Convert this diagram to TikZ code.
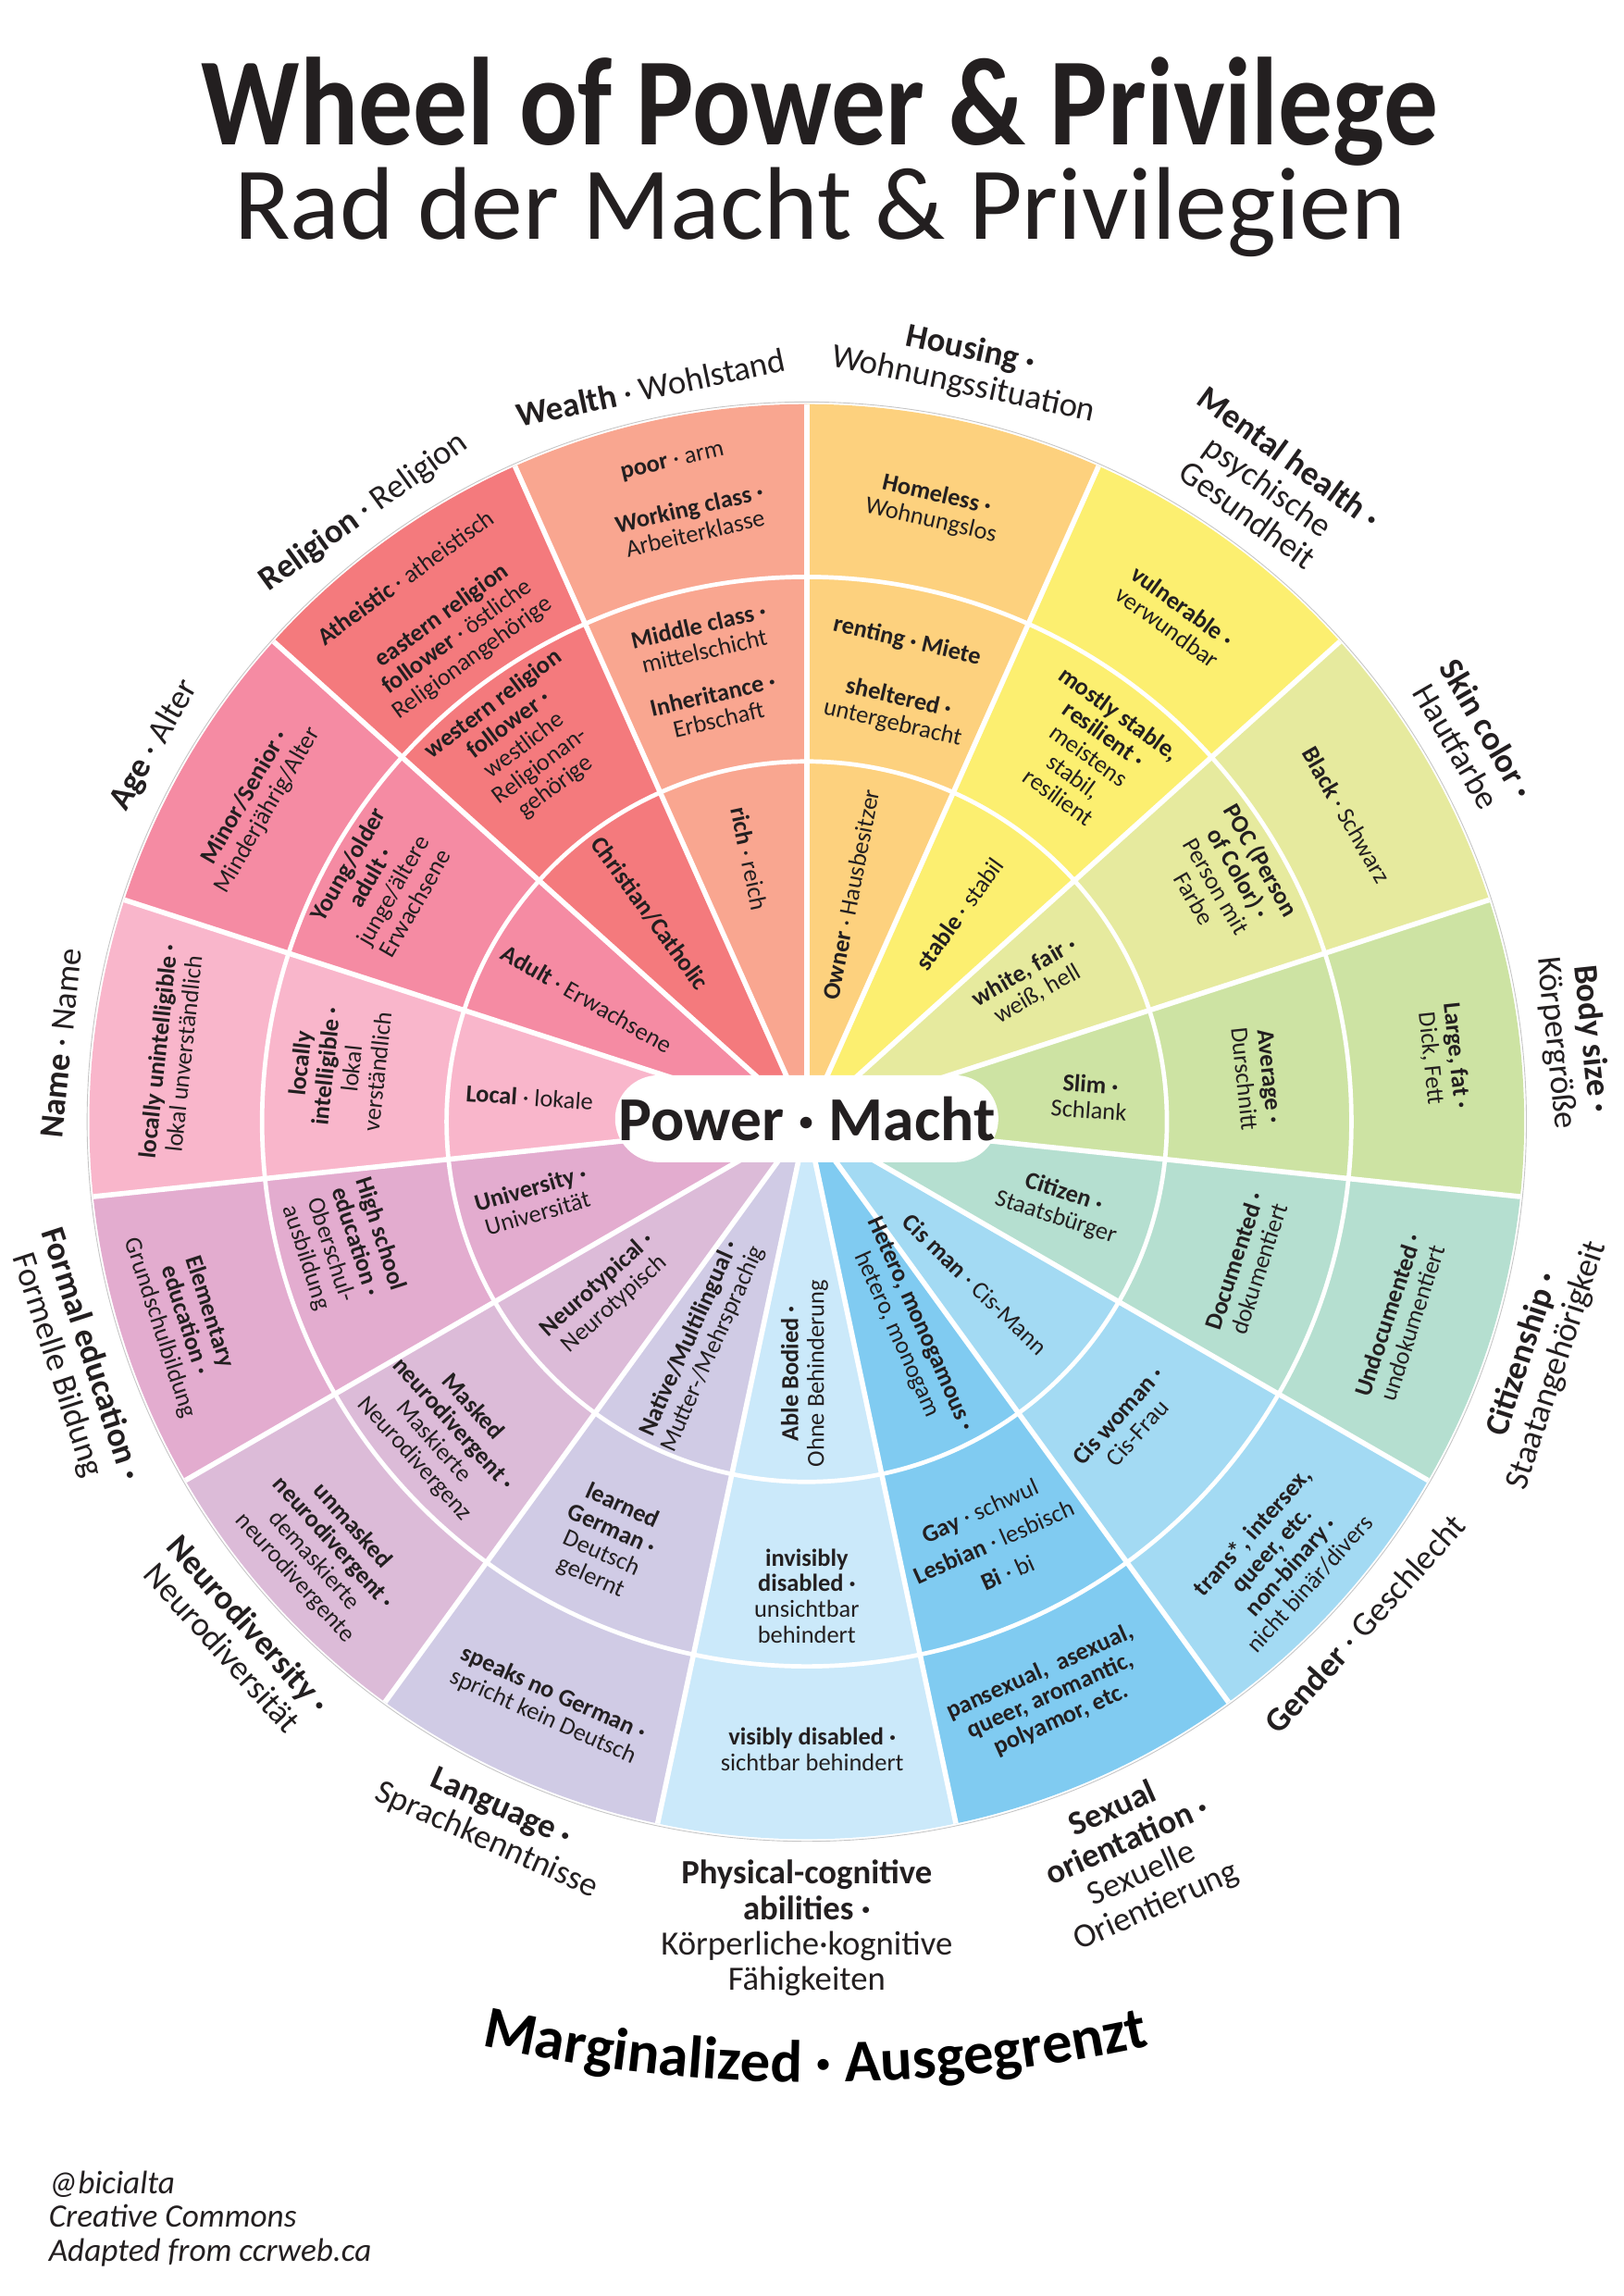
\documentclass[tikz,border=0pt]{standalone}
\usepackage{fontspec}
\setmainfont{Carlito}
\usepackage{xcolor}
\usepackage{tikz}
\usetikzlibrary{positioning, decorations.text}

\definecolor{ink}{HTML}{231F20}
\definecolor{housingc}{HTML}{FDD17E}
\definecolor{wealthc}{HTML}{F9A690}
\definecolor{religionc}{HTML}{F47A7D}
\definecolor{agec}{HTML}{F58BA3}
\definecolor{namec}{HTML}{F9B6CB}
\definecolor{educationc}{HTML}{E3ACCF}
\definecolor{neuroc}{HTML}{DCBBD8}
\definecolor{languagec}{HTML}{D0CBE5}
\definecolor{physicalc}{HTML}{CBE9FA}
\definecolor{sexualc}{HTML}{80CBF1}
\definecolor{genderc}{HTML}{A3DAF3}
\definecolor{citizenc}{HTML}{B5DFD0}
\definecolor{bodyc}{HTML}{CDE3A3}
\definecolor{skinc}{HTML}{E6EA9E}
\definecolor{mentalc}{HTML}{FCEF70}

\begin{document}
\begin{tikzpicture}[x=0.5387pt, y=0.5387pt,
    seg/.style={font=\fontsize{9}{9.5}\selectfont, align=center, inner sep=0pt, text=ink},
    cat/.style={font=\fontsize{12.5}{13}\selectfont, align=center, inner sep=0pt, text=ink},
    catup/.style={cat, anchor=south},
    catdown/.style={cat, anchor=north},
    sep/.style={white, line width=1.9pt},
    ring/.style={white, line width=1.6pt},
    ]
\fill[white] (-551,-802) rectangle (558,766);
\useasboundingbox (-551,-802) rectangle (558,766);

% wheel
\foreach \a/\col in {66/housingc, 90/wealthc, 114/religionc, 138/agec, 162/namec,
    186/educationc, 210/neuroc, 234/languagec, 258/physicalc, 282/sexualc,
    306/genderc, 330/citizenc, 354/bodyc, 18/skinc, 42/mentalc}
  \fill[fill=\col] (0,0) -- (\a:490) arc[start angle=\a, delta angle=24, radius=490] -- cycle;
\draw[ring] (0,0) circle[radius=246] (0,0) circle[radius=372];
\foreach \a in {66,90,...,402}
  \draw[sep] (0,0) -- (\a:490);
\draw[gray!45, line width=0.3pt] (0,0) circle[radius=491.5];

\node[fill=white, rounded corners=16pt, minimum width=141pt, minimum height=32pt, inner sep=0pt,
    font=\fontsize{23}{23}\selectfont\bfseries, text=ink] (power) at (0,2) {Power · Macht};

% categories
\node[catup, rotate=12] (wealth) at (102:504) {\textbf{Wealth} · Wohlstand};
\node[catup, rotate=-12] (housing) at (78:504) {\textbf{Housing ·}\\Wohnungssituation};
\node[catup, rotate=-36] (mental) at (54:504) {\textbf{Mental health ·}\\psychische\\Gesundheit};
\node[catup, rotate=-60] (skin) at (30:504) {\textbf{Skin color ·}\\Hautfarbe};
\node[catup, rotate=-84] (body) at (6:504) {\textbf{Body size ·}\\Körpergröße};
\node[catdown, rotate=72] (citizen) at (-18:504) {\textbf{Citizenship ·}\\Staatangehörigkeit};
\node[catdown, rotate=48] (gender) at (-42:504) {\textbf{Gender} · Geschlecht};
\node[catdown, rotate=24] (sexual) at (-66:504) {\textbf{Sexual}\\\textbf{orientation ·}\\Sexuelle\\Orientierung};
\node[catdown] (physical) at (-90:504) {\textbf{Physical-cognitive}\\\textbf{abilities ·}\\Körperliche·kognitive\\Fähigkeiten};
\node[catdown, rotate=-24] (language) at (-114:504) {\textbf{Language ·}\\Sprachkenntnisse};
\node[catdown, rotate=-48] (neurodiv) at (-138:504) {\textbf{Neurodiversity ·}\\Neurodiversität};
\node[catdown, rotate=-72] (education) at (-162:504) {\textbf{Formal education ·}\\Formelle Bildung};
\node[catup, rotate=84] (name) at (174:504) {\textbf{Name} · Name};
\node[catup, rotate=60] (age) at (150:504) {\textbf{Age} · Alter};
\node[catup, rotate=36] (religion) at (126:504) {\textbf{Religion} · Religion};

% wealth
\node[seg, rotate=13] (poor) at (101.5:459) {\textbf{poor} · arm};
\node[seg, rotate=13] (working) at (100.8:418) {\textbf{Working class ·}\\Arbeiterklasse};
\node[seg, rotate=13] (middle) at (102.3:338) {\textbf{Middle class ·}\\mittelschicht};
\node[seg, rotate=13] (inherit) at (102.4:290) {\textbf{Inheritance ·}\\Erbschaft};
\node[seg, rotate=-78] (rich) at (102.3:184) {\textbf{rich} · reich};
% housing
\node[seg, rotate=-13] (homeless) at (78.3:428) {\textbf{Homeless ·}\\Wohnungslos};
\node[seg, rotate=-13] (renting) at (78.2:335) {\textbf{renting · Miete}};
\node[seg, rotate=-13] (sheltered) at (77.8:287) {\textbf{sheltered ·}\\untergebracht};
\node[seg, rotate=79] (owner) at (79:158) {\textbf{Owner} · Hausbesitzer};
% mental health
\node[seg, rotate=-36] (vulnerable) at (53.9:427) {\textbf{vulnerable ·}\\verwundbar};
\node[seg, rotate=-36] (mostly) at (52.4:316) {\textbf{mostly stable,}\\\textbf{resilient ·}\\meistens\\stabil,\\resilient};
\node[seg, rotate=54] (stable) at (53.7:176) {\textbf{stable} · stabil};
% skin color
\node[seg, rotate=-60] (black) at (29.6:424) {\textbf{Black} · Schwarz};
\node[seg, rotate=-60] (poc) at (29.9:332) {\textbf{POC (Person}\\\textbf{of Color) ·}\\Person mit\\Farbe};
\node[seg, rotate=30] (fair) at (31.7:180) {\textbf{white, fair ·}\\weiß, hell};
% body size
\node[seg, rotate=-84] (large) at (5.8:437) {\textbf{Large, fat ·}\\Dick, Fett};
\node[seg, rotate=-84] (average) at (5.6:309) {\textbf{Average ·}\\Durschnitt};
\node[seg, rotate=-4] (slim) at (5:194) {\textbf{Slim ·}\\Schlank};
% citizenship
\node[seg, rotate=72] (undoc) at (-18.4:427) {\textbf{Undocumented ·}\\undokumentiert};
\node[seg, rotate=72] (doc) at (-18:316) {\textbf{Documented ·}\\dokumentiert};
\node[seg, rotate=-18] (citizenseg) at (-18.3:182) {\textbf{Citizen ·}\\Staatsbürger};
% gender
\node[seg, rotate=48] (trans) at (-42.6:440) {\textbf{trans*, intersex,}\\\textbf{queer, etc.}\\\textbf{non-binary ·}\\nicht binär/divers};
\node[seg, rotate=48] (ciswoman) at (-43.3:301) {\textbf{Cis woman ·}\\Cis-Frau};
\node[seg, rotate=-44] (cisman) at (-44:160) {\textbf{Cis man} · Cis-Mann};
% sexual orientation
\node[seg, rotate=24] (pan) at (-67:426) {\textbf{pansexual,\ \ asexual,}\\\textbf{queer, aromantic,}\\\textbf{polyamor, etc.}};
\node[seg, rotate=24] (gay) at (-66:314) {\textbf{Gay} · schwul\\[3pt]\textbf{Lesbian} · lesbisch\\[3pt]\textbf{Bi} · bi};
\node[seg, rotate=-66] (hetero) at (-64:158) {\textbf{Hetero, monogamous ·}\\hetero, monogam};
% abilities
\node[seg] (visibly) at (-89.5:429) {\textbf{visibly disabled ·}\\sichtbar behindert};
\node[seg] (invisibly) at (-90:324) {\textbf{invisibly}\\\textbf{disabled ·}\\unsichtbar\\behindert};
\node[seg, rotate=90] (able) at (-90.5:172) {\textbf{Able Bodied ·}\\Ohne Behinderung};
% language
\node[seg, rotate=-24] (speaks) at (-113.9:436) {\textbf{speaks no German ·}\\spricht kein Deutsch};
\node[seg, rotate=-24] (learned) at (-115.5:318) {\textbf{learned}\\\textbf{German ·}\\Deutsch\\gelernt};
\node[seg, rotate=66] (native) at (-115.4:168) {\textbf{Native/Multilingual ·}\\Mutter-/Mehrsprachig};
% neurodiversity
\node[seg, rotate=-48] (unmasked) at (-138.3:442) {\textbf{unmasked}\\\textbf{neurodivergent ·}\\demaskierte\\neurodivergente};
\node[seg, rotate=-48] (masked) at (-139.4:327) {\textbf{Masked}\\\textbf{neurodivergent ·}\\Maskierte\\Neurodivergenz};
\node[seg, rotate=42] (neurotyp) at (-139.3:181) {\textbf{Neurotypical ·}\\Neurotypisch};
% formal education
\node[seg, rotate=-72] (elementary) at (-162.3:446) {\textbf{Elementary}\\\textbf{education ·}\\Grundschulbildung};
\node[seg, rotate=-72] (highschool) at (-165:328) {\textbf{High school}\\\textbf{education ·}\\Oberschul-\\ausbildung};
\node[seg, rotate=16] (university) at (-163.9:194) {\textbf{University ·}\\Universität};
% name
\node[seg, rotate=84] (unintell) at (173.8:437) {\textbf{locally unintelligible ·}\\lokal unverständlich};
\node[seg, rotate=84] (intell) at (173.4:322) {\textbf{locally}\\\textbf{intelligible ·}\\lokal\\verständlich};
\node[seg, rotate=-4] (local) at (175:190) {\textbf{Local} · lokale};
% age
\node[seg, rotate=60] (minor) at (150:434) {\textbf{Minor/Senior ·}\\Minderjährig/Alter};
\node[seg, rotate=60] (young) at (150.8:333) {\textbf{Young/older}\\\textbf{adult ·}\\junge/ältere\\Erwachsene};
\node[seg, rotate=-30] (adult) at (150.8:172) {\textbf{Adult} · Erwachsene};
% religion
\node[seg, rotate=36] (atheistic) at (126.4:462) {\textbf{Atheistic} · atheistisch};
\node[seg, rotate=36] (eastern) at (125.8:408) {\textbf{eastern religion}\\\textbf{follower} · östliche\\Religionangehörige};
\node[seg, rotate=37] (western) at (126.9:321) {\textbf{western religion}\\\textbf{follower ·}\\westliche\\Religionan-\\gehörige};
\node[seg, rotate=-54] (christian) at (127:178) {\textbf{Christian/Catholic}};

% title and footer
\node[text=ink, font=\fontsize{40}{40}\selectfont\bfseries] (title) at (9,690) {\scalebox{1}[1.15]{Wheel of Power \& Privilege}};
\node[text=ink, font=\fontsize{38}{38}\selectfont] (subtitle) at (9,621) {Rad der Macht \& Privilegien};
\path[decorate, decoration={text along path, text align=center,
    text={|\fontsize{22}{22}\selectfont\bfseries|Marginalized · Ausgegrenzt}}]
  (6,398) ++(-106:1054) arc[start angle=-106, end angle=-74, radius=1054];
\node[anchor=north west, align=left, inner sep=0pt, text=ink, font=\itshape\fontsize{12}{12.5}\selectfont]
  (credits) at (-518,-716) {@bicialta\\Creative Commons\\Adapted from ccrweb.ca};
\end{tikzpicture}
\end{document}
